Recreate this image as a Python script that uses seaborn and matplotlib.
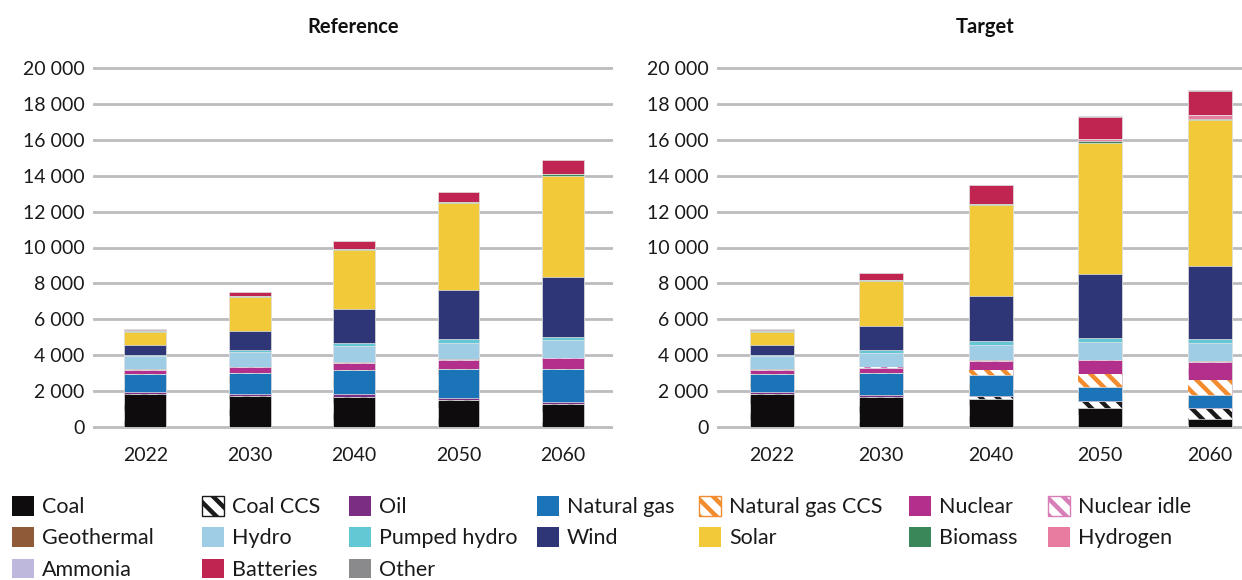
import matplotlib
matplotlib.use("Agg")
import matplotlib.pyplot as plt
from matplotlib.patches import Patch
import pandas as pd
import seaborn as sns

years = ["2022", "2030", "2040", "2050", "2060"]
scenarios = ["Reference", "Target"]
sources = ["Coal", "Coal CCS", "Oil", "Natural gas", "Natural gas CCS", "Nuclear",
           "Nuclear idle", "Geothermal", "Hydro", "Pumped hydro", "Wind", "Solar",
           "Biomass", "Hydrogen", "Ammonia", "Batteries", "Other"]

# Installed capacity (GW) by source, Reference scenario
ref_coal = [1830, 1740, 1685, 1520, 1280]
ref_coal_ccs = [0, 0, 0, 0, 0]
ref_oil = [95, 95, 130, 110, 90]
ref_gas = [1055, 1200, 1370, 1590, 1850]
ref_gas_ccs = [0, 0, 0, 0, 0]
ref_nuclear = [210, 315, 405, 535, 610]
ref_nuclear_idle = [10, 0, 0, 0, 0]
ref_geothermal = [15, 20, 25, 30, 30]
ref_hydro = [760, 815, 900, 915, 990]
ref_pumped = [55, 110, 150, 220, 185]
ref_wind = [555, 1075, 1890, 2740, 3315]
ref_solar = [720, 1870, 3330, 4810, 5650]
ref_biomass = [55, 55, 55, 60, 70]
ref_hydrogen = [0, 0, 0, 0, 0]
ref_ammonia = [0, 0, 0, 0, 0]
ref_batteries = [20, 230, 410, 565, 800]
ref_other = [60, 10, 10, 10, 10]

# Installed capacity (GW) by source, Target scenario
tgt_coal = [1830, 1655, 1540, 1075, 430]
tgt_coal_ccs = [0, 0, 130, 300, 555]
tgt_oil = [95, 110, 60, 90, 90]
tgt_gas = [1055, 1225, 1150, 740, 705]
tgt_gas_ccs = [0, 0, 300, 745, 835]
tgt_nuclear = [210, 310, 510, 770, 1000]
tgt_nuclear_idle = [10, 15, 10, 10, 10]
tgt_geothermal = [15, 20, 25, 30, 30]
tgt_hydro = [760, 800, 840, 950, 1000]
tgt_pumped = [55, 130, 240, 260, 225]
tgt_wind = [555, 1355, 2490, 3550, 4085]
tgt_solar = [720, 2500, 5050, 7310, 8130]
tgt_biomass = [55, 55, 75, 95, 60]
tgt_hydrogen = [0, 0, 20, 130, 200]
tgt_ammonia = [0, 0, 0, 0, 0]
tgt_batteries = [20, 395, 1020, 1200, 1370]
tgt_other = [60, 10, 10, 80, 40]

y_ticks = [0, 2000, 4000, 6000, 8000, 10000, 12000, 14000, 16000, 18000, 20000]

ref_series = [ref_coal, ref_coal_ccs, ref_oil, ref_gas, ref_gas_ccs, ref_nuclear,
              ref_nuclear_idle, ref_geothermal, ref_hydro, ref_pumped, ref_wind,
              ref_solar, ref_biomass, ref_hydrogen, ref_ammonia, ref_batteries, ref_other]
tgt_series = [tgt_coal, tgt_coal_ccs, tgt_oil, tgt_gas, tgt_gas_ccs, tgt_nuclear,
              tgt_nuclear_idle, tgt_geothermal, tgt_hydro, tgt_pumped, tgt_wind,
              tgt_solar, tgt_biomass, tgt_hydrogen, tgt_ammonia, tgt_batteries, tgt_other]

colors = {
    "Coal": "#0e0c0d", "Coal CCS": "#1a1a1a", "Oil": "#7b2d84",
    "Natural gas": "#1b73b8", "Natural gas CCS": "#f28c2e", "Nuclear": "#b2308c",
    "Nuclear idle": "#d77db8", "Geothermal": "#8e5a37", "Hydro": "#9fcde6",
    "Pumped hydro": "#64c8d4", "Wind": "#2e3677", "Solar": "#f2c938",
    "Biomass": "#3a875a", "Hydrogen": "#e87ca0", "Ammonia": "#bdb8dc",
    "Batteries": "#c02552", "Other": "#8a8a8d",
}
hatched = {"Coal CCS", "Natural gas CCS", "Nuclear idle"}
HATCH = "\\\\"
HATCH_LW = 3.2

rows = []
for scen, series in zip(scenarios, [ref_series, tgt_series]):
    for src, vals in zip(sources, series):
        for yr, v in zip(years, vals):
            rows.append({"scenario": scen, "source": src, "year": yr, "value": v})
df = pd.DataFrame(rows)
df["source"] = pd.Categorical(df["source"], categories=sources, ordered=True)
df = df.sort_values(["scenario", "year", "source"])
df["top"] = df.groupby(["scenario", "year"], observed=True)["value"].cumsum()

sns.set_style("white")
plt.rcParams["font.family"] = ["Lato", "DejaVu Sans"]
plt.rcParams["hatch.linewidth"] = HATCH_LW

W, H = 1242, 580
fig = plt.figure(figsize=(W / 100, H / 100), dpi=100)

y_lo, y_hi = -200, 20200
px_per_unit = 359 / 20000
ax_top_px = 68 - (y_hi - 20000) * px_per_unit
ax_bot_px = 427 + (0 - y_lo) * px_per_unit
ax_h = (ax_bot_px - ax_top_px) / H
ax_b = 1 - ax_bot_px / H

panels = {
    "Reference": dict(left=93, right=613, xlim=(-0.5, 4.48)),
    "Target": dict(left=717, right=1253, xlim=(-0.5, 4.394)),
}


def thicken_hatch(patch):
    if hasattr(patch, "set_hatch_linewidth"):
        patch.set_hatch_linewidth(HATCH_LW)


for scen in scenarios:
    p = panels[scen]
    ax = fig.add_axes([p["left"] / W, ax_b, (p["right"] - p["left"]) / W, ax_h])
    sub = df[df["scenario"] == scen]
    # Cumulative totals drawn from the top layer down so each segment shows its share
    for src in reversed(sources):
        d = sub[sub["source"] == src]
        if src in hatched:
            sns.barplot(data=d, x="year", y="top", order=years, ax=ax, color="white",
                        saturation=1, errorbar=None, width=0.4, hatch=HATCH,
                        edgecolor=colors[src], linewidth=0)
        else:
            sns.barplot(data=d, x="year", y="top", order=years, ax=ax, color=colors[src],
                        saturation=1, errorbar=None, width=0.4,
                        edgecolor="#e6e6e6", linewidth=0.5)
    for patch in ax.patches:
        if patch.get_hatch():
            thicken_hatch(patch)
    ax.set_xlim(*p["xlim"])
    ax.set_ylim(y_lo, y_hi)
    ax.set_yticks(y_ticks)
    ax.set_yticklabels([f"{t:,}".replace(",", " ") for t in y_ticks])
    ax.yaxis.grid(True, color="#bcbcc0", linewidth=2.0)
    ax.xaxis.grid(False)
    ax.set_axisbelow(True)
    for s in ax.spines.values():
        s.set_visible(False)
    ax.tick_params(axis="both", length=0, labelsize=14, colors="#1a1a1a")
    ax.tick_params(axis="y", pad=6)
    ax.tick_params(axis="x", pad=12)
    ax.set_xlabel("")
    ax.set_ylabel("")
    ax.set_title(scen, fontsize=14.5, fontweight="bold", pad=22.5, color="#111111")

# Legend: seven columns, sources listed row by row
col_x = [12, 202, 349, 537, 699, 909, 1048]
for j, x in enumerate(col_x):
    handles = []
    for src in sources[j::7]:
        if src in hatched:
            h = Patch(facecolor="white", edgecolor=colors[src], hatch=HATCH,
                      linewidth=1, label=src)
            thicken_hatch(h)
        else:
            h = Patch(facecolor=colors[src], edgecolor="none", label=src)
        handles.append(h)
    leg = fig.legend(handles=handles, loc="upper left", bbox_to_anchor=(x / W, 1 - 496 / H),
                     frameon=False, fontsize=15.5, borderpad=0, borderaxespad=0,
                     handlelength=1.02, handleheight=1.02, handletextpad=0.38,
                     labelspacing=0.47, labelcolor="#1a1a1a")
    for h in leg.legend_handles:
        if h.get_hatch():
            thicken_hatch(h)

fig.savefig("out.png", dpi=100)
